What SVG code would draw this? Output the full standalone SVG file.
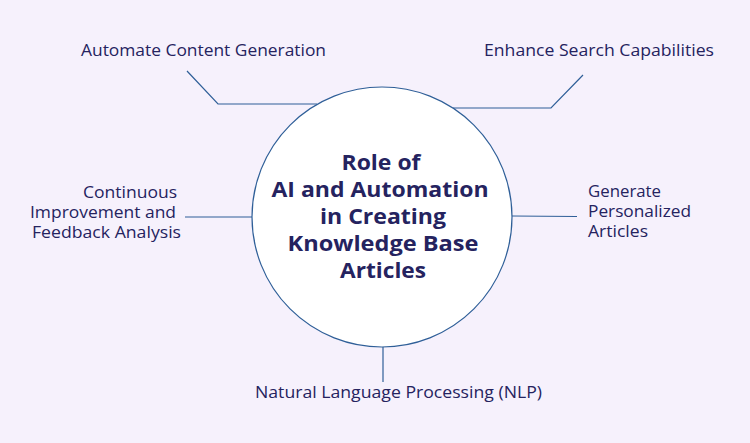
<svg xmlns="http://www.w3.org/2000/svg" width="750" height="443" viewBox="0 0 750 443">
<style>
.lbl{font-family:"Open Sans","Liberation Sans",sans-serif;font-size:16px;fill:#25235f}
.ttl{font-family:"Open Sans","Liberation Sans",sans-serif;font-size:20.5px;font-weight:bold;fill:#25235f;text-anchor:middle}
.ln{fill:none;stroke:#2f5f98;stroke-width:1.2}
</style>
<rect width="750" height="443" fill="#f6f1fc"/>
<g id="connectors">
<polyline class="ln" points="187,71 218,104 317,104"/>
<polyline class="ln" points="583,75 551,108 453,108"/>
<line class="ln" x1="185" y1="217" x2="252" y2="217"/>
<line class="ln" x1="512" y1="216" x2="577" y2="216.5"/>
<line class="ln" x1="383" y1="346" x2="383" y2="382"/>
</g>
<g id="center">
<circle cx="382" cy="217" r="130" fill="#ffffff" stroke="#2f5f98" stroke-width="1.2"/>
<text class="ttl" x="381" y="170" textLength="79" lengthAdjust="spacingAndGlyphs">Role of</text>
<text class="ttl" x="380" y="197" textLength="217" lengthAdjust="spacingAndGlyphs">AI and Automation</text>
<text class="ttl" x="383" y="224" textLength="126" lengthAdjust="spacingAndGlyphs">in Creating</text>
<text class="ttl" x="383" y="251" textLength="191" lengthAdjust="spacingAndGlyphs">Knowledge Base</text>
<text class="ttl" x="383" y="278" textLength="86" lengthAdjust="spacingAndGlyphs">Articles</text>
</g>
<g id="n-automate">
<text class="lbl" x="81" y="56" textLength="245" lengthAdjust="spacingAndGlyphs">Automate Content Generation</text>
</g>
<g id="n-search">
<text class="lbl" x="484" y="56" textLength="230" lengthAdjust="spacingAndGlyphs">Enhance Search Capabilities</text>
</g>
<g id="n-continuous">
<text class="lbl" x="83" y="198" textLength="94" lengthAdjust="spacingAndGlyphs">Continuous</text>
<text class="lbl" x="30" y="218" textLength="146" lengthAdjust="spacingAndGlyphs">Improvement and</text>
<text class="lbl" x="32" y="238" textLength="149" lengthAdjust="spacingAndGlyphs">Feedback Analysis</text>
</g>
<g id="n-personalized">
<text class="lbl" x="588" y="197" textLength="73" lengthAdjust="spacingAndGlyphs">Generate</text>
<text class="lbl" x="588" y="217" textLength="103" lengthAdjust="spacingAndGlyphs">Personalized</text>
<text class="lbl" x="588" y="237" textLength="60" lengthAdjust="spacingAndGlyphs">Articles</text>
</g>
<g id="n-nlp">
<text class="lbl" x="255" y="398" textLength="287" lengthAdjust="spacingAndGlyphs">Natural Language Processing (NLP)</text>
</g>
</svg>
